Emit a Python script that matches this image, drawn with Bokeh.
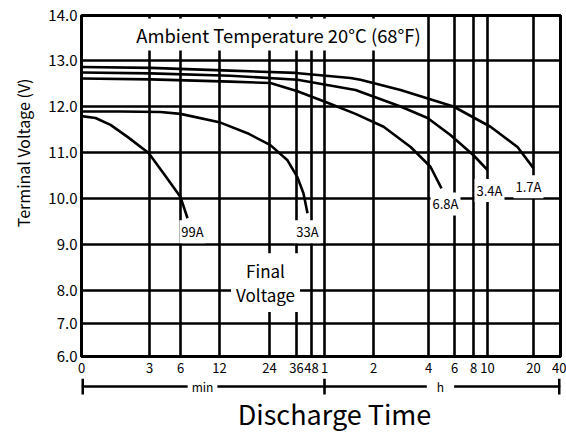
import numpy as np
from bokeh.plotting import figure
from bokeh.layouts import column
from bokeh.models import FixedTicker, Label, Range1d
from bokeh.embed import file_html
from bokeh.resources import INLINE

FONT = "Noto Sans CJK JP"

# ---- axis definitions (chart uses a non-uniform, hand-drawn time scale) ----
x_tick_minutes = [0, 3, 6, 12, 24, 36, 48, 60, 120, 240, 360, 480, 600, 1200, 2400]
x_tick_labels = ["0", "3", "6", "12", "24", "36", "48", "1", "2", "4", "6", "8", "10", "20", "40"]
x_tick_pos = [0, 68, 99, 138, 188, 215, 230, 243, 292, 347, 373, 392, 406, 452, 479]

y_tick_volts = [6, 7, 8, 9, 10, 11, 12, 13, 14]
y_tick_labels = ["6.0", "7.0", "8.0", "9.0", "10.0", "11.0", "12.0", "13.0", "14.0"]
y_tick_pos = [0, 33, 66, 112, 158, 204, 250, 296, 341]

# ---- discharge curves (time in minutes, terminal voltage in V) ----
t_99A = [0, 0.62, 1.28, 2.03, 2.96, 4.35, 6.0, 7.08]
v_99A = [11.79, 11.75, 11.60, 11.34, 10.99, 10.55, 10.03, 9.57]

t_33A = [0, 1.72, 4.06, 6.0, 12.24, 18.7, 24.4, 32.0, 36.8, 41.6, 44.8]
v_33A = [11.89, 11.89, 11.88, 11.84, 11.65, 11.42, 11.16, 10.83, 10.46, 10.11, 9.68]

t_6A8 = [0, 3.1, 14.6, 24.4, 36.8, 63.7, 98, 142, 201, 249, 300]
v_6A8 = [12.61, 12.59, 12.54, 12.51, 12.33, 12.08, 11.84, 11.56, 11.12, 10.69, 10.22]

t_3A4 = [0, 3.1, 14.6, 36.8, 98, 179, 238, 341, 480, 600]
v_3A4 = [12.74, 12.72, 12.67, 12.58, 12.36, 12.00, 11.75, 11.38, 10.94, 10.62]

t_1A7 = [0, 3.1, 14.6, 35.6, 91.8, 104, 179, 355, 639, 991, 1200]
v_1A7 = [12.86, 12.84, 12.78, 12.73, 12.62, 12.58, 12.36, 12.00, 11.56, 11.12, 10.66]

curves = [("99A", t_99A, v_99A), ("33A", t_33A, v_33A), ("6.8A", t_6A8, v_6A8),
          ("3.4A", t_3A4, v_3A4), ("1.7A", t_1A7, v_1A7)]
# label offsets (px) from curve end
label_offsets = {"99A": (5, -2), "33A": (0, -7), "6.8A": (4, -4), "3.4A": (2, -9), "1.7A": (-5, -7)}


def sx(t):
    return np.interp(t, x_tick_minutes, x_tick_pos)


def sy(v):
    return np.interp(v, y_tick_volts, y_tick_pos)


W = 566
H1 = 378
p = figure(width=W, height=H1, output_backend="svg", toolbar_location=None,
           x_range=Range1d(0, 479), y_range=Range1d(0, 341),
           min_border_left=81, min_border_top=15, min_border_right=6, min_border_bottom=22)
p.background_fill_color = "white"
p.border_fill_color = "white"
p.outline_line_color = "black"
p.outline_line_width = 3

# grid
p.xgrid.ticker = FixedTicker(ticks=x_tick_pos)
p.ygrid.ticker = FixedTicker(ticks=y_tick_pos)
for g in (p.xgrid, p.ygrid):
    g.grid_line_color = "black"
    g.grid_line_width = 2.6
    g.grid_line_alpha = 1.0

# axes
p.xaxis.ticker = FixedTicker(ticks=x_tick_pos)
p.xaxis.major_label_overrides = {pos: lab for pos, lab in zip(x_tick_pos, x_tick_labels)}
p.yaxis.ticker = FixedTicker(ticks=y_tick_pos)
p.yaxis.major_label_overrides = {pos: lab for pos, lab in zip(y_tick_pos, y_tick_labels)}
for ax in (p.xaxis, p.yaxis):
    ax.axis_line_color = "black"
    ax.axis_line_width = 3
    ax.major_tick_out = 0
    ax.major_tick_in = 0
    ax.minor_tick_out = 0
    ax.minor_tick_in = 0
    ax.major_label_text_font = FONT
    ax.major_label_text_color = "black"
p.xaxis.major_label_text_font_size = "13px"
p.xaxis.major_label_standoff = 6
p.yaxis.major_label_text_font_size = "15px"
p.yaxis.major_label_standoff = 4

# y-axis title (as a left-side title so it can sit where the reference puts it)
p.title.text = "Terminal Voltage (V)"
p.title_location = "left"
p.title.align = "right"
p.title.offset = 63
p.title.standoff = 18
p.title.text_font = FONT
p.title.text_font_size = "16px"
p.title.text_font_style = "normal"
p.title.text_color = "black"
p.title.vertical_align = "top"

# curves
for name, t, v in curves:
    p.line(sx(t), sy(v), line_color="black", line_width=2.6)

# curve labels
for name, t, v in curves:
    dx, dy = label_offsets[name]
    p.add_layout(Label(x=float(sx(t[-1])), y=float(sy(v[-1])), x_offset=dx, y_offset=dy,
                       text=name, text_font=FONT, text_font_size="13px", text_color="black",
                       text_align="center", text_baseline="top",
                       background_fill_color="white", padding=2))

# annotations
p.add_layout(Label(x=197, y=322, text="Ambient Temperature 20°C (68°F)", text_font=FONT,
                   text_font_size="18.4px", text_color="black", text_align="center",
                   text_baseline="middle", background_fill_color="white", padding=3))
p.add_layout(Label(x=184, y=74, text="Final\nVoltage", text_font=FONT,
                   text_font_size="17px", text_color="black", text_align="center",
                   text_baseline="middle", text_line_height=0.95,
                   background_fill_color="white", padding=5))

# ---- lower strip: min / h bracket and the axis title (frame aligns with p) ----
H2 = 432 - H1
p2 = figure(width=W, height=H2, output_backend="svg", toolbar_location=None,
            x_range=Range1d(0, 479), y_range=Range1d(0, H2),
            x_axis_type=None, y_axis_type=None,
            min_border_left=81, min_border_right=6, min_border_top=0, min_border_bottom=0)
p2.outline_line_color = None
p2.grid.visible = False
p2.background_fill_color = "white"
p2.border_fill_color = "white"

split = float(sx(60))
ends = [x_tick_pos[0], split, x_tick_pos[-1]]
yb = H2 - 8
p2.segment(x0=[ends[0], ends[1]], y0=[yb, yb], x1=[ends[1], ends[2]], y1=[yb, yb],
           line_color="black", line_width=2.6)
# outer tees sit on the frame edge (half clipped), so draw them wider
p2.segment(x0=[ends[0], ends[2]], y0=[yb - 8] * 2, x1=[ends[0], ends[2]], y1=[yb + 8] * 2,
           line_color="black", line_width=5)
p2.segment(x0=[ends[1]], y0=[yb - 8], x1=[ends[1]], y1=[yb + 8],
           line_color="black", line_width=2.6)
p2.add_layout(Label(x=121, y=yb, text="min", text_font=FONT, text_font_size="12px",
                    text_align="center", text_baseline="middle", text_color="black",
                    background_fill_color="white", padding=4))
p2.add_layout(Label(x=359, y=yb, text="h", text_font=FONT, text_font_size="12px",
                    text_align="center", text_baseline="middle", text_color="black",
                    background_fill_color="white", padding=10))
p2.add_layout(Label(x=253, y=19, text="Discharge Time", text_font=FONT, text_font_size="27px",
                    text_align="center", text_baseline="middle", text_color="black"))

layout = column(p, p2, spacing=0)
open("out.html", "w").write(file_html(layout, INLINE))
